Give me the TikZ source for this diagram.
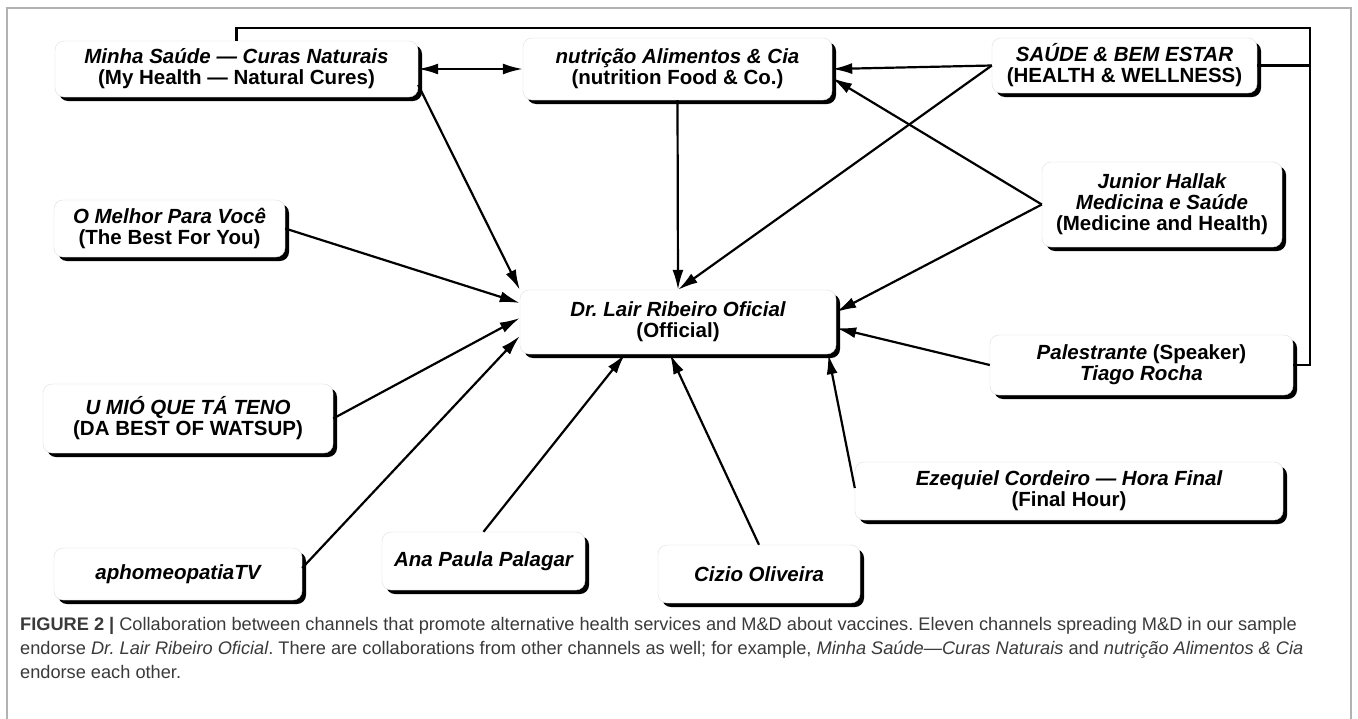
\documentclass[tikz,border=0pt]{standalone}
\usepackage{fontspec}
\setmainfont{Liberation Sans}
\usetikzlibrary{arrows.meta,shadows}
\frenchspacing

\definecolor{captiongray}{HTML}{3A3A3A}

\begin{document}
\begin{tikzpicture}[x=1pt,y=-1pt]
\tikzset{chan/.style={rectangle,rounded corners=9pt,draw=gray!25,fill=white,
  drop shadow={shadow xshift=4pt,shadow yshift=-4pt,fill=black,opacity=1},
  align=center,inner sep=0pt,font=\fontsize{20.5}{21}\selectfont\bfseries}}
\tikzset{endorse/.style={line width=2.2pt,-{Latex[length=20pt,width=11pt]}}}
\tikzset{link/.style={line width=2.2pt}}

\fill[white] (0,0) rectangle (1358,718);
\useasboundingbox (0,0) rectangle (1358,718);
\draw[gray!60,line width=1.5pt] (7,725) -- (7,8) -- (1351,8) -- (1351,725);

% channels
\node[chan,minimum width=363pt,minimum height=56pt] (minha) at (236.5,69)
  {{\itshape Minha Saúde — Curas Naturais}\\(My Health — Natural Cures)};
\node[chan,minimum width=309pt,minimum height=62pt] (nutri) at (677.5,69)
  {{\itshape nutrição Alimentos \& Cia}\\(nutrition Food \& Co.)};
\node[chan,minimum width=265pt,minimum height=55pt] (saude) at (1124.5,65.5)
  {{\itshape SAÚDE \& BEM ESTAR}\\(HEALTH \& WELLNESS)};
\node[chan,minimum width=231pt,minimum height=57pt] (melhor) at (169.5,228.5)
  {{\itshape O Melhor Para Você}\\(The Best For You)};
\node[chan,minimum width=240pt,minimum height=85pt] (junior) at (1162,204.5)
  {{\itshape Junior Hallak}\\{\itshape Medicina e Saúde}\\(Medicine and Health)};
\node[chan,minimum width=316pt,minimum height=64pt] (lair) at (678,322)
  {{\itshape Dr. Lair Ribeiro Oficial}\\(Official)};
\node[chan,minimum width=290pt,minimum height=69pt] (umio) at (188,418.5)
  {{\itshape U MIÓ QUE TÁ TENO}\\(DA BEST OF WATSUP)};
\node[chan,minimum width=248pt,minimum height=52pt] (apho) at (178,574)
  {{\itshape aphomeopatiaTV}};
\node[chan,minimum width=203pt,minimum height=58pt] (ana) at (483.5,561)
  {{\itshape Ana Paula Palagar}};
\node[chan,minimum width=202pt,minimum height=58pt] (cizio) at (759,574)
  {{\itshape Cizio Oliveira}};
\node[chan,minimum width=428pt,minimum height=58pt] (ezeq) at (1069,491)
  {{\itshape Ezequiel Cordeiro — Hora Final}\\(Final Hour)};
\node[chan,minimum width=303pt,minimum height=60pt] (pales) at (1141.5,365)
  {{\itshape Palestrante} (Speaker)\\{\itshape Tiago Rocha}};

% bracket line along the top
\coordinate (rt) at (1310,28);
\draw[link] (pales.east) -| (rt) -| (minha.north);
\draw[link] (saude.east) -- (saude.east -| rt);

% endorsements
\draw[line width=2.2pt,{Latex[length=20pt,width=11pt]}-{Latex[length=20pt,width=11pt]}] (minha.east) -- (nutri.west);
\draw[endorse] (saude.west) -- (nutri.east);
\draw[endorse] (junior.west) -- ([yshift=-9pt]nutri.east);
\draw[endorse] (nutri.south) -- (lair.north);
\draw[endorse] (saude.west) -- (lair.north);
\draw[endorse] ([yshift=-16pt]minha.east) -- (lair.north west);
\draw[endorse] (melhor.east) -- ([yshift=19pt]lair.west);
\draw[endorse] (umio.east) -- ([yshift=4pt]lair.west);
\draw[endorse] ([yshift=6pt]apho.east) -- ([yshift=-14pt]lair.west);
\draw[endorse] (ana.north) -- ([xshift=-53pt]lair.south);
\draw[endorse] (cizio.north) -- ([xshift=-8pt]lair.south);
\draw[endorse] ([yshift=3pt]ezeq.west) -- ([xshift=-8pt]lair.south east);
\draw[endorse] (pales.west) -- ([yshift=-6pt]lair.east);
\draw[endorse] (junior.west) -- ([yshift=10pt]lair.east);

% caption
\node[anchor=north west,align=left,inner sep=0pt,text=captiongray,
  font=\fontsize{18.2}{24}\selectfont] (caption) at (20,617)
  {\textbf{FIGURE 2 |} Collaboration between channels that promote alternative health services and M\&D about vaccines. Eleven channels spreading M\&D in our sample\\
   endorse \textit{Dr. Lair Ribeiro Oficial}. There are collaborations from other channels as well; for example, \textit{Minha Saúde—Curas Naturais} and \textit{nutrição Alimentos \& Cia}\\
   endorse each other.};
\end{tikzpicture}
\end{document}
